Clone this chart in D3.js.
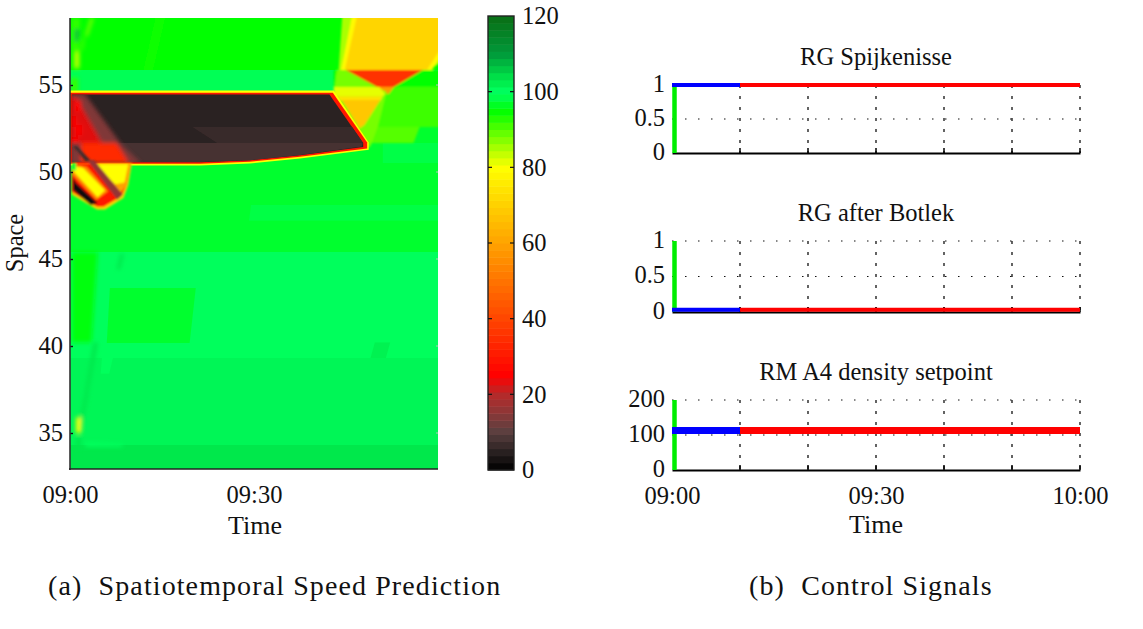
<!DOCTYPE html>
<html><head><meta charset="utf-8">
<script src="https://cdnjs.cloudflare.com/ajax/libs/d3/7.8.5/d3.min.js"></script>
<style>
html,body{margin:0;background:#fff}
text{font-family:"Liberation Serif","Times New Roman",serif;fill:#111}
</style></head><body>
<svg id="c" width="1143" height="629"></svg>
<script>
// ---- colour map (speed -> colour)
const colorStops = [0,5,10,15,20,25,80,95,97,99,100,102,104,110,120];
const colorValues = ["#000000","#2b2222","#5a3f3f","#8a3838","#b52a2a","#ff0000","#ffff00","#00ff00","#00ff2e","#00ff55","#00ff60","#00f04f","#00e048","#009a3a","#0a6e14"];
const colorTicks = [0,20,40,60,80,100,120];

// ---- left panel: speed field as patches, [minutes after 09:00, km]
const spaceTicks = [35,40,45,50,55];
const timeTicksLeft = [0,30];

// background bands and free-flow blocks
const baseSpeeds = [95, 94, 99, 97, 98.3, 98.2, 99.5, 97, 101.2, 103, 101.8, 99.5];
const baseOutlines = [
  [[-1,59.2],[61,59.2],[61,55.86],[-1,55.86]],
  [[14,58.9],[15.5,58.9],[13.5,55.86],[12,55.86]],
  [[-1,55.86],[61,55.86],[61,54.4],[-1,54.4]],
  [[-1,54.4],[61,54.4],[61,45.4],[-1,45.4]],
  [[51,51.67],[61,51.67],[61,50.52],[51,50.52]],
  [[29.5,48.1],[61,48.1],[61,47.2],[29.2,47.2]],
  [[-1,45.4],[61,45.4],[61,39.31],[-1,39.31]],
  [[6.5,43.33],[20.5,43.33],[19.5,40.17],[6,40.17]],
  [[-1,39.31],[61,39.31],[61,34.31],[-1,34.31]],
  [[-1,34.31],[61,34.31],[61,32.7],[-1,32.7]],
  [[49.7,40.2],[52.2,40.2],[51.5,39.31],[49,39.31]],
  [[5.2,39.31],[7,39.31],[6.4,38.4],[5,38.4]]
];

// soft streaks along the left edge
const streakSpeeds = [92, 88, 90, 82, 108, 95.7, 103, 103, 103, 80, 103, 99.5, 92];
const streakOutlines = [
  [[0.3,58.85],[1.6,58.85],[1.4,55.9],[0.3,55.9]],
  [[3.3,58.85],[3.9,58.85],[2.9,57.8],[2.4,57.8]],
  [[2.1,57.7],[2.4,57.7],[2.1,57],[1.8,57]],
  [[1,56.9],[1.5,56.9],[1.5,56],[1,56]],
  [[0.8,58.2],[1.5,58.2],[1.3,57.5],[0.8,57.5]],
  [[0.3,45.4],[4.5,45.4],[3.5,40.2],[0.3,40.2]],
  [[3.8,40.2],[4.6,40.2],[3,37.3],[2.4,37.3]],
  [[2.4,37.3],[3.1,37.3],[1.8,35],[1.2,35]],
  [[8.2,45.3],[8.8,45.3],[8.2,44.4],[7.6,44.4]],
  [[1,35.9],[1.8,35.9],[1.8,35],[1,35]],
  [[1,34.8],[1.8,34.8],[1.8,34.1],[1,34.1]],
  [[2.5,34.5],[8.5,34.4],[8.5,34.2],[2.5,34.2]],
  [[0.2,55.4],[1.3,55.4],[1.3,54.5],[0.2,54.5]]
];

// breakdown head at the upper right
const headSpeeds = [95, 91.5, 90, 85, 79, 71, 36, 58, 88, 81.5, 74, 68, 88];
const headOutlines = [
  [[43,55.86],[61,55.86],[61,54.89],[43,54.89]],
  [[44,54.89],[61,54.89],[61,52.59],[44,52.59]],
  [[50,52.59],[57,52.59],[56,51.67],[49,51.67]],
  [[44.4,59],[61,59],[61,56.9],[60.5,56.3],[58.5,55.86],[43.8,55.86]],
  [[46,59],[61,59],[61,56.9],[59,55.86],[44.2,55.86]],
  [[46.8,59],[61,59],[61,57.4],[58.2,55.86],[44.8,55.86]],
  [[44.8,55.86],[57.5,55.86],[52.8,54.89],[50,54.89]],
  [[50,54.89],[52.8,54.89],[52,54.5],[50.7,54.5]],
  [[43.5,55.86],[45,55.86],[50,54.89],[51.6,54.6],[50.2,52.6],[49,51.5],[48.3,51.3],[43,54.5]],
  [[43,54.89],[50.4,54.89],[51.4,54.5],[51,54.35],[43,54.35]],
  [[43.5,54.35],[51,54.35],[50.6,54.1],[44,54.1]],
  [[44.3,54.14],[50.6,54.14],[48,52.7],[47.2,52.5]],
  [[47.2,52.5],[48.2,52.6],[49.2,51.7],[48.5,51.5]]
];

// congested region edges and core
const jamSpeeds = [80, 30, 5, 6.5, 8];
const jamOutlines = [
  [[0,54.68],[43.0,54.68],[48.7,51.7],[48.7,51.28],[37.5,50.78],[29.3,50.49],[21.2,50.38],[0,50.38]],
  [[0,54.56],[42.85,54.56],[48.45,51.7],[48.45,51.35],[37.5,50.88],[29.3,50.59],[21.2,50.48],[0,50.48]],
  [[0.3,54.46],[42.3,54.46],[47.8,51.67],[47.8,51.43],[37.5,50.96],[29.3,50.67],[21.2,50.56],[0.3,50.56]],
  [[20,52.59],[46,52.59],[47.8,51.67],[24,51.67]],
  [[6,51.67],[47.7,51.67],[47.6,51.47],[37.5,50.98],[29.3,50.68],[21.2,50.58],[9,50.58]]
];

// queue front fading into the core (drawn only inside the jam)
const frontSpeeds = [14, 23, 34, 25, 25, 25, 25];
const frontOutlines = [
  [[0,54.5],[2.4,54.5],[8.2,51.67],[11.6,50.5],[0,50.5]],
  [[0,54.3],[1,54.3],[5.2,51.67],[0,51.67]],
  [[1.8,51.67],[7.6,51.67],[9.6,50.5],[1.8,50.5]],
  [[0.9,54.1],[1.8,54.1],[1.8,53.5],[0.9,53.5]],
  [[0.2,53.2],[1,53.2],[1,52.6],[0.2,52.6]],
  [[0.9,52.7],[1.9,52.7],[1.9,52.1],[0.9,52.1]],
  [[0.2,52],[1.3,52],[1.3,51.67],[0.2,51.67]]
];

// stop-and-go stripes at the lower left
const lobeSpeeds = [72, 30, 60, 80, 55, 80, 16, 7, 1, 97];
const lobeOutlines = [
  [[0.3,50.52],[10.1,50.52],[9.5,49.25],[8.7,48.5],[5.7,47.85],[4.4,47.85],[0.3,48.7]],
  [[0.3,50.5],[9.9,50.5],[9.2,49.25],[8.4,48.6],[5.5,48.0],[4.4,48.0],[0.3,48.85]],
  [[3.5,50.5],[9.9,50.5],[9.1,49.2],[8.2,48.8],[7,49.0],[4.5,50]],
  [[3.9,50.45],[9.5,50.45],[8.9,49.4],[7.4,49.3],[5.8,49.8]],
  [[0.4,50.4],[2.7,50.3],[6.2,48.9],[4.3,48.4],[0.4,49.85]],
  [[0.65,50.35],[2.1,50.25],[5.7,48.95],[4.5,48.55],[0.65,50]],
  [[2.8,50.69],[3.9,50.69],[8.6,48.7],[7.7,48.4]],
  [[0.5,51.49],[1.1,51.49],[3.3,50.69],[2.6,50.57]],
  [[0.5,49.66],[1,49.37],[4.5,48.22],[3.4,48.1],[0.5,48.97]],
  [[0.3,50.52],[1,50.52],[1,50.1],[0.3,50.1]]
];

// ---- right panel: control signals
const signalNames = ["RG Spijkenisse","RG after Botlek","RM A4 density setpoint"];
const signalMax = [1,1,200];
const signalTicks = [[0,0.5,1],[0,0.5,1],[0,100,200]];
const signalLevels = [1,0.03,113];
const signalWidths = [4,4,7];
const pastTimes = [0,10];
const futureTimes = [10,60];
const gridTimes = [10,20,30,40,50,60];

const TICK = 24.5;
const svg = d3.select("#c");
const heatX = d3.scaleLinear().domain([0,60]).range([70,438]);
const heatY = d3.scaleLinear().domain([55,35]).range([85,433]);
const color = d3.scaleLinear().domain(colorStops).range(colorValues).interpolate(d3.interpolateRgb);
const fmt = m => d3.timeFormat("%H:%M")(new Date(2000,0,1,9,m));
const path = d3.line().x(d=>heatX(d[0])).y(d=>heatY(d[1])).curve(d3.curveLinearClosed);

const defs = svg.append("defs");
defs.append("clipPath").attr("id","heatClip").append("rect")
  .attr("x",70).attr("y",18).attr("width",368).attr("height",451);
defs.append("clipPath").attr("id","jamClip").append("path").attr("d",path(jamOutlines[2]));
[["soft05",0.5],["soft10",1.0],["soft08",0.8],["soft2",2]].forEach(([id,s])=>{
  defs.append("filter").attr("id",id).attr("x","-20%").attr("y","-20%").attr("width","140%").attr("height","140%")
    .append("feGaussianBlur").attr("stdDeviation",s);
});

const heatRoot = svg.append("g").attr("clip-path","url(#heatClip)");
function layer(parent, speeds, outlines, filter){
  parent.append("g").attr("filter",`url(#${filter})`)
    .selectAll("path").data(outlines).join("path")
    .attr("d",path).attr("fill",(d,i)=>color(speeds[i]));
}
layer(heatRoot, baseSpeeds, baseOutlines, "soft05");
layer(heatRoot, streakSpeeds, streakOutlines, "soft2");
layer(heatRoot, headSpeeds, headOutlines, "soft08");
layer(heatRoot, jamSpeeds, jamOutlines, "soft05");
layer(heatRoot.append("g").attr("clip-path","url(#jamClip)"), frontSpeeds, frontOutlines, "soft2");
layer(heatRoot, lobeSpeeds, lobeOutlines, "soft10");

// left axes
const gy = svg.append("g").attr("transform","translate(70,0)")
  .call(d3.axisLeft(heatY).tickValues(spaceTicks).tickSize(-3).tickPadding(7).tickFormat(d3.format("d")));
gy.select(".domain").remove();
gy.selectAll("line").attr("stroke","#111").attr("stroke-width",1.4);
gy.selectAll("text").attr("font-size",TICK);
svg.append("line").attr("x1",70).attr("x2",70).attr("y1",18).attr("y2",470).attr("stroke","#333").attr("stroke-width",1.6);
svg.append("line").attr("x1",69).attr("x2",438).attr("y1",469).attr("y2",469).attr("stroke","#222").attr("stroke-width",1.6);
svg.selectAll(".rt").data(spaceTicks).join("line").attr("class","rt")
  .attr("x1",436).attr("x2",438).attr("y1",d=>heatY(d)).attr("y2",d=>heatY(d)).attr("stroke","#bbb");
const gx = svg.append("g").attr("transform","translate(0,469)")
  .call(d3.axisBottom(heatX).tickValues(timeTicksLeft).tickSize(0).tickPadding(17).tickFormat(fmt));
gx.select(".domain").remove();
gx.selectAll("text").attr("font-size",TICK);
svg.append("text").attr("x",255).attr("y",534).attr("text-anchor","middle").attr("font-size",26).text("Time");
svg.append("text").attr("transform","translate(22.5,243) rotate(-90)").attr("text-anchor","middle").attr("font-size",24.5).text("Space");

// colourbar
const barY = d3.scaleLinear().domain([0,120]).range([470,16]);
const levels = d3.range(64);
svg.append("g").selectAll("rect").data(levels).join("rect")
  .attr("x",488).attr("width",26)
  .attr("y",d=>barY((d+1)*120/64)).attr("height",d=>barY(d*120/64)-barY((d+1)*120/64)+0.5)
  .attr("fill",d=>color((d+0.5)*120/64));
svg.append("rect").attr("x",488).attr("y",16).attr("width",26).attr("height",454)
  .attr("fill","none").attr("stroke","#222").attr("stroke-width",1.4);
const cb = svg.append("g").attr("transform","translate(514,0)")
  .call(d3.axisRight(barY).tickValues(colorTicks).tickSize(0).tickPadding(8));
cb.select(".domain").remove();
cb.selectAll("text").attr("font-size",TICK);
svg.selectAll(".cbt").data(colorTicks.slice(1,-1)).join("g").attr("class","cbt").each(function(d){
  const y=barY(d);
  d3.select(this).selectAll("line").data([[488,492],[510,514]]).join("line")
    .attr("x1",e=>e[0]).attr("x2",e=>e[1]).attr("y1",y).attr("y2",y).attr("stroke","#111").attr("stroke-width",1.2);
});

// right panels
const sigX = d3.scaleLinear().domain([0,60]).range([672,1080]);
const panelTops = [85,241,400];
const panelBottoms = [153,312,470];
signalNames.forEach((name,i)=>{
  const y = d3.scaleLinear().domain([0,signalMax[i]]).range([panelBottoms[i],panelTops[i]]);
  const g = svg.append("g");
  g.selectAll(".v").data(gridTimes).join("line").attr("class","v")
    .attr("x1",d=>sigX(d)).attr("x2",d=>sigX(d)).attr("y1",panelTops[i]).attr("y2",panelBottoms[i])
    .attr("stroke","#111").attr("stroke-width",1.3).attr("stroke-dasharray","3 8");
  g.selectAll(".h").data(signalTicks[i].slice(1)).join("line").attr("class","h")
    .attr("x1",sigX(0)).attr("x2",sigX(60)).attr("y1",d=>y(d)).attr("y2",d=>y(d))
    .attr("stroke","#111").attr("stroke-width",1.2).attr("stroke-dasharray","1.5 11.5");
  const ax = g.append("g").attr("transform",`translate(0,${panelBottoms[i]})`)
    .call(d3.axisBottom(sigX).tickValues(i===2?[0,30,60]:[]).tickSize(0).tickPadding(16.5).tickFormat(fmt));
  ax.select(".domain").attr("stroke","#000").attr("stroke-width",2);
  ax.selectAll("text").attr("font-size",TICK);
  g.selectAll(".bt").data(gridTimes).join("line").attr("class","bt")
    .attr("x1",d=>sigX(d)).attr("x2",d=>sigX(d)).attr("y1",panelBottoms[i]-5).attr("y2",panelBottoms[i])
    .attr("stroke","#000").attr("stroke-width",1.5);
  const ay = g.append("g").attr("transform","translate(673,0)")
    .call(d3.axisLeft(y).tickValues(signalTicks[i]).tickSize(0).tickPadding(8).tickFormat(d3.format("~g")));
  ay.select(".domain").remove();
  ay.selectAll("text").attr("font-size",TICK).attr("dy","0.26em");
  const ln = d3.line().x(d=>sigX(d[0])).y(d=>y(d[1]));
  g.append("path").attr("d",ln([[0,0],[0,signalMax[i]]])).attr("transform","translate(2.5,0)")
    .attr("stroke","#00ee00").attr("stroke-width",4.5).attr("fill","none");
  g.append("path").attr("d",ln(futureTimes.map(t=>[t,signalLevels[i]]))).attr("stroke","#ff0000").attr("stroke-width",signalWidths[i]).attr("fill","none");
  g.append("path").attr("d",ln(pastTimes.map(t=>[t,signalLevels[i]]))).attr("stroke","#0000ff").attr("stroke-width",signalWidths[i]).attr("fill","none");
  g.append("text").attr("x",876).attr("y",panelTops[i]-20).attr("text-anchor","middle").attr("font-size",24.5).text(name);
});
svg.append("text").attr("x",876).attr("y",533).attr("text-anchor","middle").attr("font-size",26).text("Time");

// captions
svg.append("text").attr("x",48).attr("y",595).attr("font-size",28).attr("letter-spacing",1.1).attr("xml:space","preserve").text("(a)  Spatiotemporal Speed Prediction");
svg.append("text").attr("x",749).attr("y",595).attr("font-size",28).attr("letter-spacing",1.1).attr("xml:space","preserve").text("(b)  Control Signals");
</script></body></html>
